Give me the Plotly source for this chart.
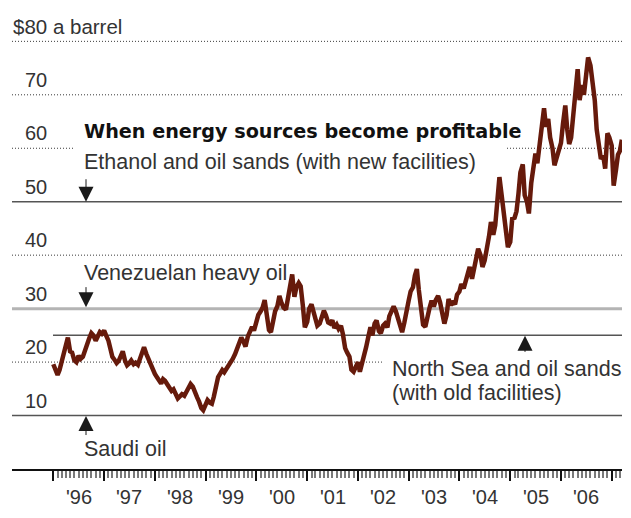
import pandas as pd
import plotly.graph_objects as go

# Crude oil spot price, dollars a barrel, sampled on the 1st and 15th of each month
price_1996 = [19.6, 18.8, 17.6, 18.5, 20.2, 21.5, 23.0, 24.6, 22.0, 21.8, 20.3, 20.0,
              21.2, 20.6, 21.0, 22.2, 23.5, 24.4, 25.4, 25.0, 24.0, 24.8, 25.6, 25.3]
price_1997 = [25.9, 25.0, 24.0, 22.5, 21.0, 20.5, 19.8, 20.2, 21.5, 22.0, 20.2, 19.4,
              19.8, 20.3, 19.6, 19.9, 19.5, 20.8, 21.8, 22.8, 21.5, 20.6, 19.4, 18.6]
price_1998 = [17.8, 17.2, 16.4, 16.0, 16.8, 16.5, 15.8, 15.2, 14.6, 14.9, 13.8, 13.2,
              13.6, 14.0, 13.7, 14.4, 15.2, 15.9, 15.4, 14.3, 13.4, 12.6, 11.4, 11.0]
price_1999 = [12.3, 12.9, 12.4, 12.2, 13.5, 15.3, 17.2, 17.8, 18.5, 18.1, 18.8, 19.3,
              19.8, 20.6, 21.5, 22.6, 23.5, 24.6, 23.8, 22.9, 24.8, 25.8, 26.6, 25.9]
price_2000 = [27.5, 28.8, 29.5, 30.2, 31.6, 29.0, 26.0, 25.6, 27.8, 29.5, 30.5, 32.4,
              31.0, 30.2, 29.8, 32.0, 34.5, 36.4, 32.2, 34.0, 34.8, 34.2, 30.5, 26.5]
price_2001 = [27.5, 30.0, 30.8, 29.5, 27.5, 26.8, 27.2, 28.6, 29.6, 28.8, 27.4, 27.2,
              27.8, 26.4, 27.0, 26.2, 26.8, 25.2, 22.6, 21.8, 21.0, 18.6, 18.2, 19.0]
price_2002 = [20.0, 18.2, 19.8, 21.0, 22.8, 24.5, 26.5, 25.0, 27.2, 27.8, 25.8, 25.4,
              26.8, 27.2, 26.5, 28.6, 29.4, 30.4, 29.5, 28.2, 26.4, 25.6, 27.4, 29.8]
price_2003 = [31.5, 33.2, 34.0, 36.2, 37.4, 33.5, 29.0, 27.0, 26.6, 28.8, 30.2, 31.5,
              30.4, 31.6, 32.4, 31.2, 29.0, 27.2, 28.8, 31.8, 30.6, 31.4, 30.8, 32.6]
price_2004 = [33.2, 34.6, 33.8, 35.0, 36.6, 37.8, 35.6, 37.4, 39.2, 41.2, 40.0, 37.8,
              39.0, 40.8, 43.5, 46.2, 43.8, 45.6, 50.5, 54.6, 51.0, 47.6, 44.0, 41.5]
price_2005 = [42.5, 46.8, 47.0, 48.2, 51.5, 55.5, 57.0, 51.2, 50.0, 47.8, 53.5, 57.0,
              59.0, 57.2, 61.5, 65.0, 67.5, 64.0, 65.5, 62.0, 60.0, 56.8, 58.2, 59.5]
price_2006 = [61.0, 64.5, 68.0, 63.5, 60.8, 62.0, 66.5, 71.0, 74.8, 69.0, 71.8, 70.0,
              73.5, 77.0, 75.5, 72.2, 69.0, 63.5, 60.5, 58.0, 58.6, 56.2, 62.8, 62.0]
price_2007 = [60.5, 53.0, 56.0, 58.8, 59.5, 61.6]

prices = (price_1996 + price_1997 + price_1998 + price_1999 + price_2000 + price_2001
          + price_2002 + price_2003 + price_2004 + price_2005 + price_2006 + price_2007)
dates = pd.date_range("1996-01-01", periods=len(prices), freq="SMS")

# Year labels along the time axis
label_years = list(range(1996, 2007))
year_labels = ["'96", "'97", "'98", "'99", "'00", "'01", "'02", "'03", "'04", "'05", "'06"]

# Price levels at which each source becomes profitable
saudi_level = 10
north_sea_level = 25
venezuela_level = 30
ethanol_level = 50

# Value labels on the left
value_levels = [10, 20, 30, 40, 50, 60, 70]
value_labels = ["10", "20", "30", "40", "50", "60", "70"]
top_level = 80
top_label = "$80 a barrel"

# Layout geometry (pixels)
W, H = 631, 518
M_L, M_R, M_T, M_B = 12, 9, 36, 49
PLOT_W = W - M_L - M_R
PLOT_H = H - M_T - M_B


def px_x(px):
    return (px - M_L) / PLOT_W


def px_y(py):
    return (H - M_B - py) / PLOT_H


LINE_COLOR = "#661a0b"
TEXT_COLOR = "#333333"
RULE_DARK = "#555555"
RULE_LIGHT = "#b4b4b4"
DOT_COLOR = "#3a3a3a"
DOT = "1px,2px"
SANS = "Liberation Sans, Arial, Helvetica, sans-serif"

fig = go.Figure()
fig.add_trace(go.Scatter(
    x=dates, y=prices, mode="lines",
    line=dict(color=LINE_COLOR, width=4.5),
    hoverinfo="skip", showlegend=False,
))

shapes = []


def hline(y, x0, x1, color, width, dash="solid"):
    shapes.append(dict(type="line", xref="paper", yref="y", x0=x0, x1=x1, y0=y, y1=y,
                       line=dict(color=color, width=width, dash=dash), layer="below"))


# Dotted guide lines (broken where text sits on top of them)
hline(80, 0, 1, DOT_COLOR, 1, DOT)
hline(70, 0, 1, DOT_COLOR, 1, DOT)
hline(60, 0, px_x(75), DOT_COLOR, 1, DOT)
hline(60, px_x(507), 1, DOT_COLOR, 1, DOT)
hline(40, 0, 1, DOT_COLOR, 1, DOT)
hline(20, 0, px_x(383), DOT_COLOR, 1, DOT)

# Profitability thresholds
hline(saudi_level, 0, 1, RULE_DARK, 1.5)
hline(north_sea_level, px_x(53), 1, RULE_DARK, 1.5)
hline(venezuela_level, 0, 1, RULE_LIGHT, 3)
hline(ethanol_level, 0, 1, RULE_DARK, 1.5)

annotations = []

# Left-hand value labels, sitting above their lines
for lvl, lab in zip(value_levels, value_labels):
    annotations.append(dict(
        text=lab, xref="paper", yref="y", x=px_x(23), y=lvl, yshift=15,
        xanchor="left", yanchor="middle", showarrow=False,
        font=dict(family=SANS, size=20, color=TEXT_COLOR)))
annotations.append(dict(
    text=top_label, xref="paper", yref="y", x=px_x(10.5), y=top_level, yshift=15,
    xanchor="left", yanchor="middle", showarrow=False,
    font=dict(family=SANS, size=20.5, color=TEXT_COLOR)))

# Year labels centred under each year
for yr, lab in zip(label_years, year_labels):
    annotations.append(dict(
        text=lab, xref="x", yref="paper", x=f"{yr}-07-02", y=0, yshift=-28,
        xanchor="center", yanchor="middle", showarrow=False,
        font=dict(family=SANS, size=20, color=TEXT_COLOR)))

# Heading and source labels
annotations.append(dict(
    text="<b>When energy sources become profitable</b>", xref="paper", yref="paper",
    x=px_x(82), y=px_y(131.7), xanchor="left", yanchor="middle", showarrow=False,
    font=dict(family="DejaVu Sans", size=19.2, color="#111")))

text_items = [
    ("Ethanol and oil sands (with new facilities)", 82, 161.7),
    ("Venezuelan heavy oil", 82, 272.5),
    ("Saudi oil", 82, 449),
    ("North Sea and oil sands", 390.5, 369),
    ("(with old facilities)", 390.5, 392.5),
]
for txt, xp, yp in text_items:
    annotations.append(dict(
        text=txt, xref="paper", yref="paper", x=px_x(xp), y=px_y(yp),
        xanchor="left", yanchor="middle", showarrow=False,
        font=dict(family=SANS, size=21.5, color=TEXT_COLOR)))

# Pointer arrows onto the threshold lines
arrows = [
    (86, ethanol_level, -24, 0),
    (86, venezuela_level, -23, 1.5),
    (86, saudi_level, 21, 0.5),
    (525, north_sea_level, 18, 0.5),
]
for xp, lvl, ay, standoff in arrows:
    annotations.append(dict(
        text="", xref="paper", yref="y", x=px_x(xp), y=lvl,
        ax=0, ay=ay, axref="pixel", ayref="pixel",
        showarrow=True, arrowhead=2, arrowsize=3, arrowwidth=1,
        arrowcolor="#1a1a1a", standoff=standoff))

year_starts = pd.date_range("1996-01-01", "2007-01-01", freq="YS")
month_starts = pd.date_range("1996-01-01", "2007-03-01", freq="MS")

fig.update_layout(
    width=W, height=H, autosize=False,
    margin=dict(l=M_L, r=M_R, t=M_T, b=M_B, pad=0),
    paper_bgcolor="white", plot_bgcolor="white",
    font=dict(family=SANS, size=20, color=TEXT_COLOR),
    showlegend=False,
    xaxis=dict(
        type="date", range=["1995-03-10", "2007-03-16"],
        showline=True, linecolor="#111", linewidth=2,
        ticks="outside", tickmode="array", tickvals=year_starts,
        ticklen=10, tickwidth=2, tickcolor="#111",
        showticklabels=False, showgrid=False, zeroline=False, fixedrange=True,
        minor=dict(tickmode="array", tickvals=month_starts, ticks="outside",
                   ticklen=7, tickwidth=1.5, tickcolor="#7a7a7a", showgrid=False),
    ),
    yaxis=dict(range=[0, 81], visible=False, fixedrange=True),
    shapes=shapes,
    annotations=annotations,
)

fig.write_html("out.html")
